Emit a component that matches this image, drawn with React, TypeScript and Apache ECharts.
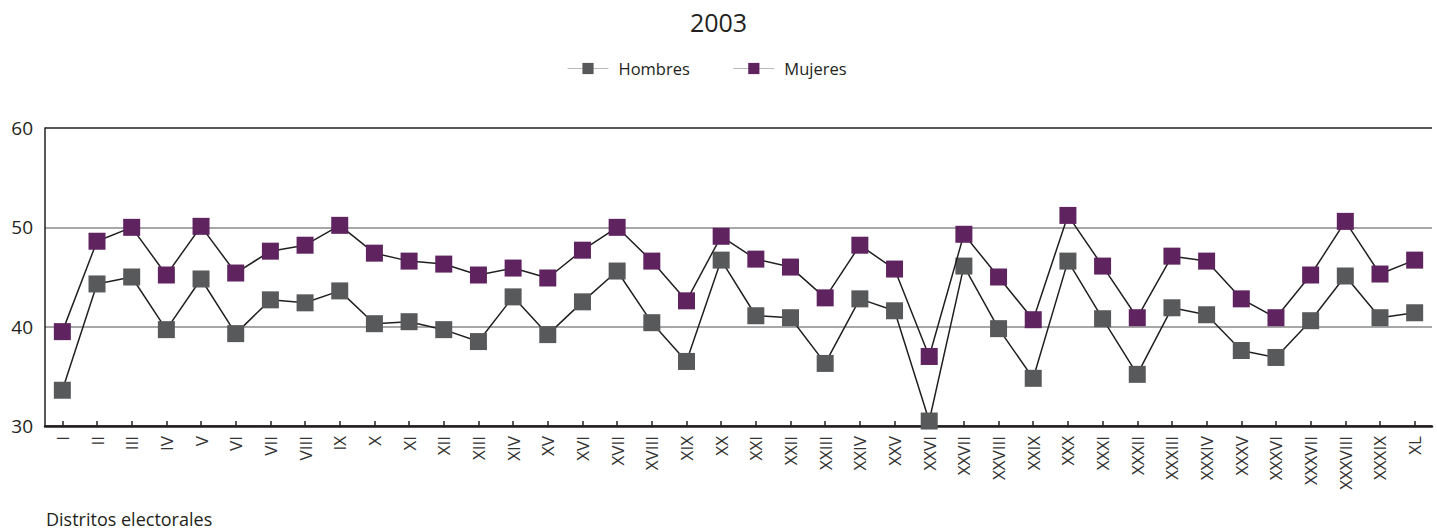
import React, { useEffect, useRef } from "react";
import * as echarts from "echarts";

const title = "2003";
const xAxisName = "Distritos electorales";
const categories = [
  "I", "II", "III", "IV", "V", "VI", "VII", "VIII", "IX", "X",
  "XI", "XII", "XIII", "XIV", "XV", "XVI", "XVII", "XVIII", "XIX", "XX",
  "XXI", "XXII", "XXIII", "XXIV", "XXV", "XXVI", "XXVII", "XXVIII", "XXIX", "XXX",
  "XXXI", "XXXII", "XXXIII", "XXXIV", "XXXV", "XXXVI", "XXXVII", "XXXVIII", "XXXIX", "XL",
];
const hombres = [
  33.6, 44.3, 45.0, 39.7, 44.8, 39.3, 42.7, 42.4, 43.6, 40.3,
  40.5, 39.7, 38.5, 43.0, 39.2, 42.5, 45.6, 40.4, 36.5, 46.7,
  41.1, 40.9, 36.3, 42.8, 41.6, 30.5, 46.1, 39.8, 34.8, 46.6,
  40.8, 35.2, 41.9, 41.2, 37.6, 36.9, 40.6, 45.1, 40.9, 41.4,
];
const mujeres = [
  39.5, 48.6, 50.0, 45.2, 50.1, 45.4, 47.6, 48.2, 50.2, 47.4,
  46.6, 46.3, 45.2, 45.9, 44.9, 47.7, 50.0, 46.6, 42.6, 49.1,
  46.8, 46.0, 42.9, 48.2, 45.8, 37.0, 49.3, 45.0, 40.7, 51.2,
  46.1, 40.9, 47.1, 46.6, 42.8, 40.9, 45.2, 50.6, 45.3, 46.7,
];
const yTicks = { min: 30, max: 60, interval: 10 };

const FONT = "'Open Sans', 'Noto Sans', sans-serif";
const TEXT = "#231f20";

export default function App() {
  const ref = useRef<HTMLDivElement>(null);
  useEffect(() => {
    if (!ref.current) return;
    const chart = echarts.init(ref.current, undefined, { renderer: "svg" });
    chart.setOption({
      animation: false,
      backgroundColor: "#ffffff",
      title: {
        text: title,
        left: "center",
        top: 4,
        textStyle: { fontFamily: FONT, fontSize: 25, fontWeight: "normal", color: TEXT },
      },
      legend: {
        left: 562,
        top: 55,
        itemWidth: 41,
        itemHeight: 14,
        itemGap: 43,
        lineStyle: { color: "#bbbbbb", width: 1 },
        textStyle: { fontFamily: FONT, fontSize: 16.5, color: TEXT, padding: [0, 0, 0, 5] },
        data: ["Hombres", "Mujeres"],
      },
      grid: { left: 45, right: 5, top: 128, bottom: 105, containLabel: false },
      graphic: [
        {
          type: "text",
          left: 46,
          top: 510,
          style: { text: xAxisName, fontFamily: FONT, fontSize: 18, fill: TEXT },
        },
      ],
      xAxis: {
        type: "category",
        data: categories,
        boundaryGap: true,
        axisLine: { show: true, lineStyle: { color: TEXT, width: 2.5 } },
        axisTick: { show: true, inside: true, alignWithLabel: true, length: 5, lineStyle: { color: TEXT, width: 1.5 } },
        axisLabel: {
          interval: 0,
          rotate: 90,
          margin: 10,
          fontFamily: FONT,
          fontSize: 17,
          color: "#333333",
        },
        splitLine: { show: false },
      },
      yAxis: {
        type: "value",
        min: yTicks.min,
        max: yTicks.max,
        interval: yTicks.interval,
        axisLine: { show: true, lineStyle: { color: TEXT, width: 1.5 } },
        axisTick: { show: false },
        axisLabel: { fontFamily: FONT, fontSize: 19, color: TEXT, margin: 12 },
        splitLine: {
          show: true,
          lineStyle: { color: ["#231f20", "#8a8a8a", "#8a8a8a", "#231f20"], width: 1.5 },
        },
      },
      series: [
        {
          name: "Hombres",
          type: "line",
          data: hombres,
          symbol: "rect",
          symbolSize: 17,
          itemStyle: { color: "#58595b" },
          lineStyle: { color: "#231f20", width: 1.5 },
          z: 3,
        },
        {
          name: "Mujeres",
          type: "line",
          data: mujeres,
          symbol: "rect",
          symbolSize: 17,
          itemStyle: { color: "#5f2360" },
          lineStyle: { color: "#231f20", width: 1.5 },
          z: 4,
        },
      ],
    });
    return () => chart.dispose();
  }, []);
  return (
    <div
      ref={ref}
      style={{ position: "fixed", left: 0, top: 0, width: 1437, height: 531 }}
    />
  );
}
